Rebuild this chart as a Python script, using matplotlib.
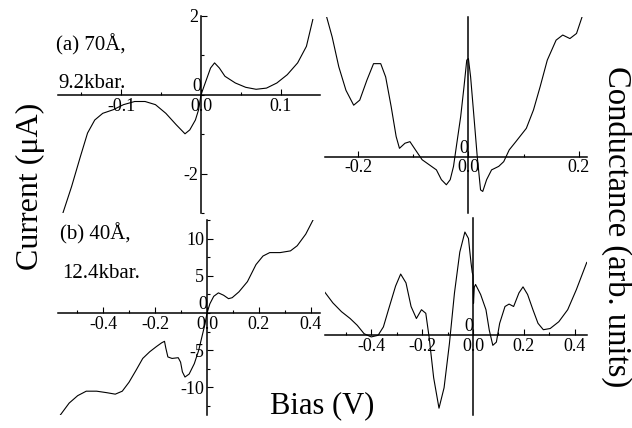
import numpy as np
import matplotlib.pyplot as plt
from matplotlib.ticker import MultipleLocator, FixedLocator

plt.rcParams["font.family"] = ["Liberation Serif", "DejaVu Serif"]

W, H = 632, 428

# (a) 70 A, 9.2 kbar -- I-V (bias in V, current in uA)
bias_a_iv = [-0.173, -0.162, -0.151, -0.142, -0.133, -0.123, -0.110, -0.097, -0.083,
             -0.070, -0.057, -0.044, -0.031, -0.020, -0.014, -0.007, -0.003, 0.0,
             0.006, 0.012, 0.017, 0.023, 0.030, 0.043, 0.056, 0.069, 0.082, 0.095,
             0.108, 0.121, 0.132, 0.140]
current_a = [-3.01, -2.33, -1.57, -0.97, -0.64, -0.47, -0.38, -0.25, -0.17,
             -0.17, -0.25, -0.47, -0.76, -0.99, -0.89, -0.64, -0.38, 0.0,
             0.34, 0.68, 0.81, 0.68, 0.47, 0.30, 0.19, 0.14, 0.17, 0.30,
             0.51, 0.81, 1.23, 1.91]

# (a) conductance (arb. units)
bias_a_g = [-0.257, -0.247, -0.235, -0.222, -0.208, -0.197, -0.184, -0.172, -0.159,
            -0.150, -0.140, -0.131, -0.125, -0.115, -0.106, -0.096, -0.084, -0.071,
            -0.058, -0.049, -0.040, -0.033, -0.027, -0.021, -0.014, -0.008, -0.003,
            0.0, 0.004, 0.009, 0.016, 0.022, 0.026, 0.033, 0.042, 0.055, 0.064,
            0.074, 0.086, 0.105, 0.118, 0.130, 0.143, 0.159, 0.171, 0.184, 0.196,
            0.206]
cond_a = [3.56, 3.05, 2.29, 1.69, 1.31, 1.44, 1.95, 2.37, 2.37,
          2.03, 1.27, 0.51, 0.21, 0.34, 0.38, 0.17, -0.08, -0.21,
          -0.34, -0.59, -0.72, -0.59, -0.25, 0.34, 1.02, 1.78, 2.46,
          2.50, 2.03, 1.19, 0.0, -0.85, -0.89, -0.59, -0.34, -0.25, -0.13,
          0.17, 0.38, 0.72, 1.19, 1.78, 2.46, 2.97, 3.10, 3.01, 3.14,
          3.56]

# (b) 40 A, 12.4 kbar -- I-V
bias_b_iv = [-0.566, -0.532, -0.499, -0.466, -0.426, -0.387, -0.354, -0.327, -0.301,
             -0.274, -0.248, -0.221, -0.195, -0.175, -0.164, -0.159, -0.151, -0.135,
             -0.111, -0.102, -0.095, -0.085, -0.069, -0.049, -0.032, -0.019, -0.008,
             0.0, 0.011, 0.026, 0.044, 0.064, 0.083, 0.097, 0.123, 0.156, 0.189,
             0.216, 0.242, 0.282, 0.322, 0.348, 0.381, 0.415]
current_b = [-13.7, -12.1, -11.1, -10.5, -10.5, -10.7, -10.9, -10.5, -9.3,
             -7.7, -6.1, -5.2, -4.5, -4.0, -3.8, -4.7, -5.9, -6.1,
             -6.0, -6.6, -7.9, -8.6, -8.2, -6.8, -5.0, -3.1, -1.5,
             0.0, 1.24, 2.25, 2.71, 2.39, 1.93, 2.06, 2.84, 4.22, 6.51,
             7.66, 8.12, 8.12, 8.35, 9.04, 10.6, 12.9]

# (b) conductance
bias_b_g = [-0.584, -0.552, -0.518, -0.484, -0.456, -0.429, -0.401, -0.374, -0.353,
            -0.333, -0.305, -0.285, -0.264, -0.244, -0.223, -0.203, -0.186, -0.173,
            -0.155, -0.134, -0.114, -0.093, -0.073, -0.052, -0.032, -0.018, -0.008,
            -0.003, 0.0, 0.002, 0.005, 0.010, 0.030, 0.051, 0.064, 0.078, 0.092,
            0.105, 0.126, 0.142, 0.160, 0.181, 0.197, 0.215, 0.236, 0.256, 0.277,
            0.304, 0.338, 0.373, 0.407, 0.448]
cond_b = [1.08, 0.81, 0.59, 0.42, 0.25, 0.04, -0.04, 0.0, 0.21,
          0.64, 1.23, 1.53, 1.31, 0.72, 0.42, 0.64, 0.55, -0.04,
          -1.06, -1.82, -1.31, -0.21, 1.06, 2.08, 2.58, 2.42, 1.82,
          1.57, 1.50, 0.80, 1.20, 1.27, 1.02, 0.64, 0.13, -0.25, -0.17,
          0.30, 0.72, 0.78, 0.72, 1.06, 1.21, 1.02, 0.64, 0.30, 0.14,
          0.17, 0.34, 0.64, 1.14, 1.82]


def make_axes(fig, px, xlim, ylim):
    x1, y1, x2, y2 = px
    ax = fig.add_axes([x1 / W, 1 - y2 / H, (x2 - x1) / W, (y2 - y1) / H])
    ax.set_xlim(*xlim)
    ax.set_ylim(*ylim)
    ax.patch.set_visible(False)
    for s in ("top", "right"):
        ax.spines[s].set_visible(False)
    for s in ("left", "bottom"):
        ax.spines[s].set_position(("data", 0))
        ax.spines[s].set_linewidth(1.1)
    ax.tick_params(which="both", direction="in", labelsize=13, width=0.8, pad=2)
    ax.tick_params(which="major", length=4)
    ax.tick_params(which="minor", length=2.5)
    ax.text(0, 0, "0", transform=ax.transData, ha="right", va="bottom",
            fontsize=13, clip_on=False)
    return ax


fig = plt.figure(figsize=(W / 100, H / 100), dpi=100)

# (a) I-V
ax1 = make_axes(fig, (58, 16, 320, 213), (-0.179, 0.149), (-3.0, 2.0))
ax1.plot(bias_a_iv, current_a, color="black", lw=0.8)
ax1.xaxis.set_major_locator(FixedLocator([-0.1, 0.0, 0.1]))
ax1.xaxis.set_minor_locator(MultipleLocator(0.05))
ax1.set_xticklabels(["-0.1", "0.0", "0.1"])
ax1.yaxis.set_major_locator(FixedLocator([-2, 2]))
ax1.yaxis.set_minor_locator(MultipleLocator(1))
ax1.set_yticklabels(["-2", "2"])

# (a) conductance
ax2 = make_axes(fig, (325, 17, 587, 213), (-0.26, 0.215), (-1.44, 3.56))
ax2.plot(bias_a_g, cond_a, color="black", lw=0.8)
ax2.xaxis.set_major_locator(FixedLocator([-0.2, 0.0, 0.2]))
ax2.xaxis.set_minor_locator(MultipleLocator(0.1))
ax2.set_xticklabels(["-0.2", "0.0", "0.2"])
ax2.yaxis.set_major_locator(FixedLocator([]))

# (b) I-V
ax3 = make_axes(fig, (58, 220, 320, 415), (-0.575, 0.436), (-13.7, 12.5))
ax3.plot(bias_b_iv, current_b, color="black", lw=0.8)
ax3.xaxis.set_major_locator(FixedLocator([-0.4, -0.2, 0.0, 0.2, 0.4]))
ax3.xaxis.set_minor_locator(MultipleLocator(0.1))
ax3.set_xticklabels(["-0.4", "-0.2", "0.0", "0.2", "0.4"])
ax3.yaxis.set_major_locator(FixedLocator([-10, -5, 5, 10]))
ax3.yaxis.set_minor_locator(MultipleLocator(2.5))
ax3.set_yticklabels(["-10", "-5", "5", "10"])

# (b) conductance
ax4 = make_axes(fig, (325, 218, 587, 415), (-0.583, 0.449), (-1.99, 2.93))
ax4.plot(bias_b_g, cond_b, color="black", lw=0.8)
ax4.xaxis.set_major_locator(FixedLocator([-0.4, -0.2, 0.0, 0.2, 0.4]))
ax4.xaxis.set_minor_locator(MultipleLocator(0.1))
ax4.set_xticklabels(["-0.4", "-0.2", "0.0", "0.2", "0.4"])
ax4.yaxis.set_major_locator(FixedLocator([]))

# panel annotations
fig.text(56 / W, 1 - 45 / H, "(a) 70Å,", fontsize=15, va="center", ha="left")
fig.text(58 / W, 1 - 84 / H, "9.2kbar.", fontsize=15, va="center", ha="left")
fig.text(60 / W, 1 - 234 / H, "(b) 40Å,", fontsize=15, va="center", ha="left")
fig.text(62 / W, 1 - 274 / H, "12.4kbar.", fontsize=15, va="center", ha="left")

fig.text(30 / W, 1 - 186 / H, "Current (μA)", fontsize=23, rotation=90,
         va="center", ha="center")
fig.text(322 / W, 1 - 406 / H, "Bias (V)", fontsize=22, va="center", ha="center")
fig.text(617 / W, 1 - 227 / H, "Conductance (arb. units)", fontsize=23.5,
         rotation=270, va="center", ha="center")

fig.savefig("out.png", dpi=100)
